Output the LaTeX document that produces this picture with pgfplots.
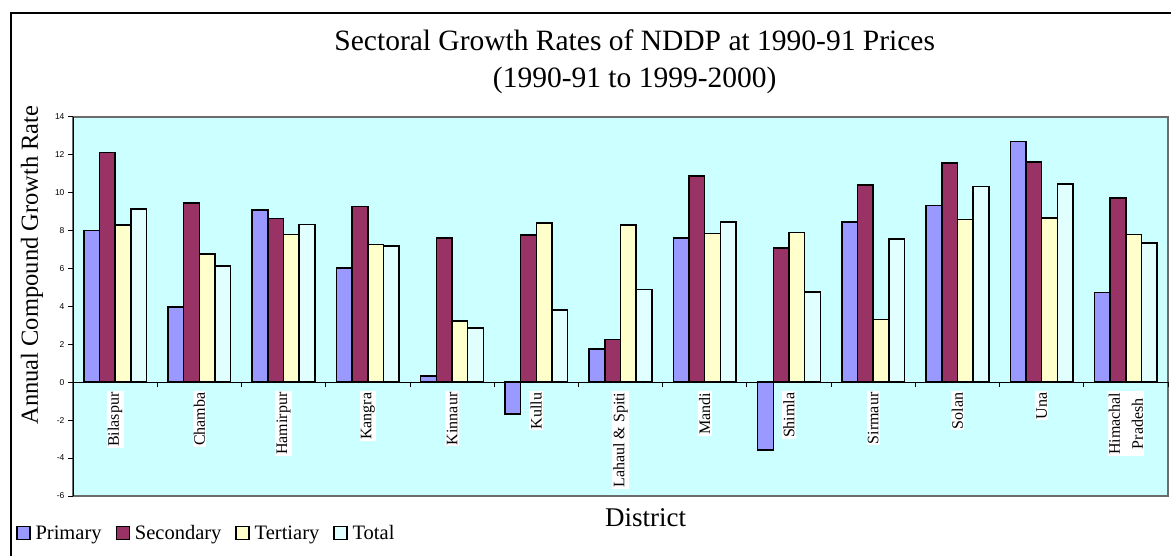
\documentclass[border=0pt]{standalone}
\usepackage{pgfplots}
\pgfplotsset{compat=1.18}
\usepackage{pgfplotstable}
\usepackage{fontspec}
\setmainfont{Liberation Serif}
\newfontfamily\arialf{Liberation Sans}
\definecolor{cprim}{RGB}{153,153,255}
\definecolor{csec}{RGB}{153,51,102}
\definecolor{cter}{RGB}{255,255,204}
\definecolor{ctot}{RGB}{226,255,255}
\definecolor{cbg}{RGB}{204,255,255}
\pgfplotstableread{
x prim sec ter tot
0 8.0 12.10 8.30 9.14
1 3.97 9.46 6.77 6.12
2 9.08 8.63 7.79 8.32
3 6.02 9.27 7.26 7.17
4 0.33 7.61 3.22 2.86
5 -1.68 7.77 8.39 3.81
6 1.74 2.25 8.30 4.89
7 7.61 10.87 7.83 8.46
8 -3.58 7.07 7.90 4.75
9 8.46 10.39 3.30 7.54
10 9.32 11.57 8.58 10.32
11 12.70 11.62 8.67 10.45
12 4.73 9.71 7.79 7.35
}\datatable
\begin{document}
\begin{tikzpicture}
\path[use as bounding box] (0pt,0pt) rectangle (1171pt,-556pt);
\draw[black,line width=1.5pt] (11pt,-560pt) -- (11pt,-13pt) -- (1175pt,-13pt);
\begin{axis}[
  at={(73pt,-496pt)}, anchor=south west,
  scale only axis, width=1095pt, height=379.3pt,
  xmin=-0.5, xmax=12.5, ymin=-6, ymax=14,
  ybar=0pt, bar width=0.186,
  axis x line*=middle, axis y line*=left,
  axis line style={black, line width=0.8pt},
  axis background/.style={fill=cbg, draw=gray!85!black, line width=1.8pt},
  xtick={0,...,12},
  xticklabels={Bilaspur,Chamba,Hamirpur,Kangra,Kinnaur,Kullu,{Lahaul \& Spiti},Mandi,Shimla,Sirmaur,Solan,Una,{Himachal\\Pradesh}},
  minor xtick={0.5,1.5,...,12.5},
  major x tick style={draw=none},
  minor x tick style={black, line width=0.8pt},
  minor tick length=5pt, major tick length=5pt,
  xtick align=outside, ytick align=outside,
  xticklabel style={rotate=90, anchor=east, fill=white, inner sep=1.2pt, align=center, font=\fontsize{16}{23}\selectfont},
  xticklabel shift=4pt,
  ytick={-6,-4,...,14},
  ytick style={black, line width=0.8pt},
  yticklabel style={font=\arialf\fontsize{8.5}{10}\selectfont},
  /pgf/number format/assume math mode=true,
  title={Sectoral Growth Rates of NDDP at 1990-91 Prices\\(1990-91 to 1999-2000)},
  title style={align=center, font=\fontsize{29.5}{37}\selectfont, at={(axis description cs:0.513,1)}, anchor=south, yshift=13pt},
  xlabel={District},
  xlabel style={font=\fontsize{27}{30}\selectfont, at={(axis description cs:0.523,-0.057)}, anchor=center},
  ylabel={Annual Compound Growth Rate},
  every axis y label/.style={at={(axis description cs:-0.0374,0.609)}, rotate=90, anchor=center, font=\fontsize{24.5}{28}\selectfont},
  legend columns=4,
  legend style={at={(axis description cs:-0.052,-0.0975)}, anchor=west, draw=none, fill=none,
    font=\fontsize{20.5}{22}\selectfont, inner sep=0pt,
    /tikz/every odd column/.append style={column sep=3pt},
    /tikz/every even column/.append style={column sep=12pt}},
  legend image code/.code={\draw[#1,draw=black,line width=1.3pt] (0pt,-6.5pt) rectangle (13pt,6.5pt);},
  every axis plot/.append style={draw=black, line width=1.5pt},
]
\addplot[fill=cprim] table[x=x,y=prim]{\datatable};
\addplot[fill=csec] table[x=x,y=sec]{\datatable};
\addplot[fill=cter] table[x=x,y=ter]{\datatable};
\addplot[fill=ctot] table[x=x,y=tot]{\datatable};
\legend{Primary,Secondary,Tertiary,Total}
\end{axis}
\end{tikzpicture}
\end{document}
